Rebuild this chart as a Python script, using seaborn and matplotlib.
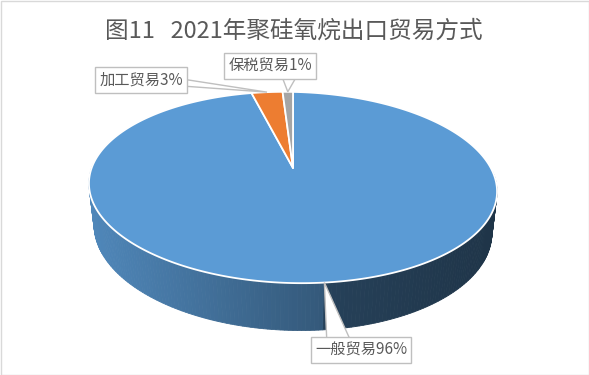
import numpy as np
import matplotlib
matplotlib.use('Agg')
import matplotlib.pyplot as plt
import matplotlib.colors as mcolors
from matplotlib.patches import Polygon, Rectangle
import seaborn as sns

# data
categories = ['一般贸易', '加工贸易', '保税贸易']
shares = [96, 3, 1]
slice_colors = ['#5b9bd5', '#ed7d31', '#a5a5a5']
title = '图11   2021年聚硅氧烷出口贸易方式'

# label boxes (centre) and callout pointer bases, in pixel coords
label_xy = [(361, 350), (141, 80), (270, 66)]
pointer_base = [[(327, 346), (353, 346)],
                [(182, 79), (182, 86)],
                [(281, 74), (298, 74)]]

sns.set_theme(style='white')
plt.rcParams['font.family'] = ['Noto Sans CJK SC', 'DejaVu Sans']

TXT = '#595959'
EDGE = '#bfbfbf'

# simple perspective camera for the 3D pie
F, D = 871.0, 4.36
tilt = np.deg2rad(27.3)
sn, cs = np.sin(tilt), np.cos(tilt)
H = 0.235
CX, CY = 293.0, 168.0
SHEAR = 0.02


def project(theta_deg, z=0.0):
    t = np.deg2rad(theta_deg)
    u, v = np.sin(t), np.cos(t)
    depth = D + v * cs - z * sn
    X = F * u / depth
    Y = F * (v * sn + z * cs) / depth
    return CX + X, CY - Y + SHEAR * X


fig = plt.figure(figsize=(5.89, 3.75), dpi=100)
ax = fig.add_axes([0, 0, 1, 1])
ax.set_xlim(0, 589)
ax.set_ylim(375, 0)
ax.axis('off')

total = float(sum(shares))
bounds = np.concatenate([[0], np.cumsum(shares)]) / total * 360.0
mids = (bounds[:-1] + bounds[1:]) / 2

# side wall (front half), back to front
tip0_x, _ = project(mids[0])
rim_x, _ = project(np.linspace(0, 360, 721), -H)
x_left, x_right = rim_x.min(), rim_x.max()
steps = np.arange(90.0, 270.0, 1.0)
order = np.argsort(-np.cos(np.deg2rad(steps + 0.5)))
for k in order:
    a, b = steps[k], steps[k] + 1.0
    m = (a + b) / 2
    idx = int(np.searchsorted(bounds, m % 360, side='right') - 1)
    idx = min(max(idx, 0), len(shares) - 1)
    xa, ya = project(np.array([a, b]), 0.0)
    xb, yb = project(np.array([b, a]), -H)
    xm = (xa.mean() + xb.mean()) / 2
    if xm <= tip0_x:
        f = 0.87 - 0.30 * (xm - x_left) / (tip0_x - x_left)
    else:
        f = 0.42 - 0.08 * (xm - tip0_x) / (x_right - tip0_x)
    col = np.array(mcolors.to_rgb(slice_colors[idx])) * f
    pts = np.column_stack([np.r_[xa, xb], np.r_[ya, yb]])
    ax.add_patch(Polygon(pts, closed=True, fc=col, ec=col, lw=0.6, zorder=1))

# top face slices
apex = (CX, CY)
for i, c in enumerate(slice_colors):
    th = np.linspace(bounds[i], bounds[i + 1], max(int((bounds[i + 1] - bounds[i]) * 2), 4))
    xs, ys = project(th, 0.0)
    pts = np.vstack([[apex], np.column_stack([xs, ys])])
    ax.add_patch(Polygon(pts, closed=True, fc=c, ec='white', lw=1.3,
                         joinstyle='round', zorder=2))

# callouts
for i, cat in enumerate(categories):
    tx, ty = project(mids[i], 0.0)
    b1, b2 = pointer_base[i]
    ax.add_patch(Polygon([(tx, ty), b1, b2], closed=True, fc='white',
                         ec=EDGE, lw=1.0, zorder=3))
    ax.text(label_xy[i][0], label_xy[i][1], f'{cat}{shares[i]}%',
            ha='center', va='center', fontsize=11, color=TXT, zorder=4,
            bbox=dict(boxstyle='square,pad=0.28', fc='white', ec=EDGE, lw=1.0))

ax.text(294, 31, title, ha='center', va='center', fontsize=17, color=TXT)

ax.add_patch(Rectangle((0.5, 0.5), 588, 374, fill=False, ec='#d9d9d9', lw=1.0, zorder=5))

fig.savefig('out.png', dpi=100)
